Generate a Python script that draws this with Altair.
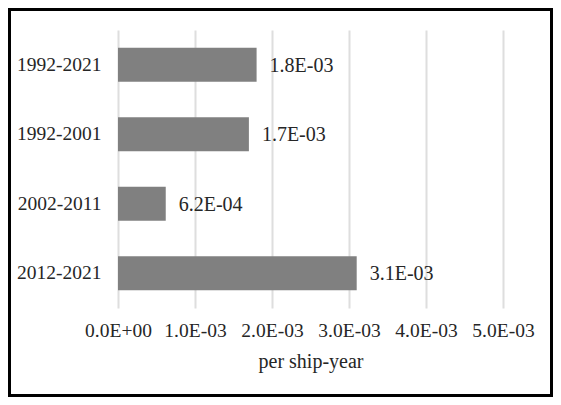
import altair as alt
import pandas as pd

periods = ["1992-2021", "1992-2001", "2002-2011", "2012-2021"]
rates = [1.8e-3, 1.7e-3, 6.2e-4, 3.1e-3]
tick_values = [0.0, 0.001, 0.002, 0.003, 0.004, 0.005]

df = pd.DataFrame({
    "period": periods,
    "rate": rates,
    "label": [f"{v:.1E}" for v in rates],
})

FONT = "Liberation Serif"
TXT = "#262626"
FS = 19.5

x_enc = alt.X(
    "rate:Q",
    scale=alt.Scale(domain=[0, 0.005], nice=False, zero=True),
    axis=alt.Axis(
        values=tick_values,
        labelExpr="datum.value == 0 ? '0.0E+00' : format(datum.value*1000, '.1f') + 'E-03'",
        title="per ship-year",
        grid=True,
        gridColor="#dedede",
        gridWidth=2,
        domain=False,
        ticks=False,
        tickSize=0,
        labelPadding=13,
        titlePadding=12,
        labelFont=FONT,
        labelFontSize=FS,
        labelColor=TXT,
        titleFont=FONT,
        titleFontSize=20,
        titleFontWeight="normal",
        titleColor=TXT,
        labelFlush=False,
    ),
)
y_enc = alt.Y(
    "period:N",
    sort=periods,
    scale=alt.Scale(paddingInner=0.51, paddingOuter=0.255),
    axis=alt.Axis(
        title=None,
        domain=False,
        ticks=False,
        tickSize=0,
        labelPadding=17,
        labelFont=FONT,
        labelFontSize=FS,
        labelColor=TXT,
        grid=False,
    ),
)

base = alt.Chart(df)
bars = base.mark_bar(color="#808080").encode(x=x_enc, y=y_enc)
labels = base.mark_text(
    align="left", baseline="middle", dx=13, dy=1, font=FONT, fontSize=20, color=TXT
).encode(x="rate:Q", y=alt.Y("period:N", sort=periods), text="label:N")

border = alt.Chart(pd.DataFrame({"a": [0]})).mark_rect(
    fill=None, stroke="#000000", strokeWidth=3
).encode(
    x=alt.value(-108.5), x2=alt.value(433.5), y=alt.value(-20.5), y2=alt.value(365.5)
)

chart = alt.layer(bars, labels, border).properties(
    width=385,
    height=278,
    autosize=alt.AutoSizeParams(type="none"),
    padding={"left": 110, "top": 22, "right": 50, "bottom": 89},
    background="white",
).configure_view(stroke=None)

chart.save("out.html", embed_options={"renderer": "svg", "actions": False})
